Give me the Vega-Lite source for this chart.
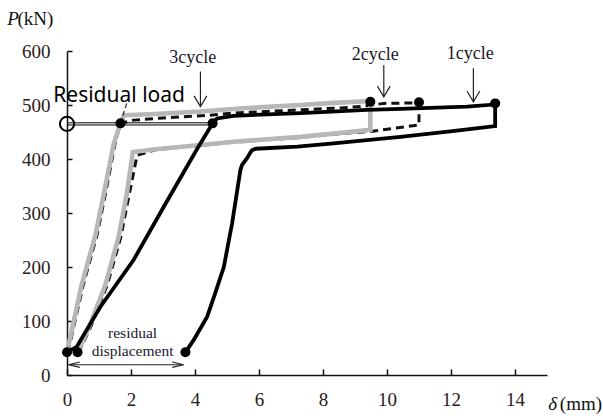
{
  "$schema": "https://vega.github.io/schema/vega-lite/v6.json",
  "width": 480,
  "height": 324,
  "autosize": {"type": "none"},
  "padding": {"left": 67, "top": 51, "right": 56, "bottom": 41},
  "background": "white",
  "config": {
    "view": {"stroke": null},
    "axis": {"grid": false, "domainColor": "#111", "domainWidth": 1.5, "tickColor": "#111", "tickWidth": 1.5, "labelFont": "Liberation Serif", "labelFontSize": 19, "labelColor": "#2a2018", "labelFlush": false}
  },
  "datasets": {
    "c1": [
      {"s": 1, "x": 0, "P": 42}, {"s": 2, "x": 0.3, "P": 52}, {"s": 3, "x": 1.04, "P": 126}, {"s": 4, "x": 2.08, "P": 213},
      {"s": 5, "x": 3.02, "P": 311}, {"s": 6, "x": 4.06, "P": 418}, {"s": 7, "x": 4.55, "P": 466}, {"s": 8, "x": 4.69, "P": 475},
      {"s": 9, "x": 5.2, "P": 480}, {"s": 10, "x": 7.29, "P": 485}, {"s": 11, "x": 9.38, "P": 491}, {"s": 12, "x": 10.42, "P": 493},
      {"s": 13, "x": 12.5, "P": 497}, {"s": 14, "x": 13.38, "P": 501}, {"s": 15, "x": 13.38, "P": 461}, {"s": 16, "x": 11.98, "P": 451},
      {"s": 17, "x": 10.42, "P": 441}, {"s": 18, "x": 8.33, "P": 429}, {"s": 19, "x": 7.2, "P": 423}, {"s": 20, "x": 5.9, "P": 419},
      {"s": 21, "x": 5.78, "P": 416}, {"s": 22, "x": 5.73, "P": 412}, {"s": 23, "x": 5.62, "P": 401}, {"s": 24, "x": 5.47, "P": 389},
      {"s": 25, "x": 5.42, "P": 380}, {"s": 26, "x": 5.16, "P": 281}, {"s": 27, "x": 4.9, "P": 200}, {"s": 28, "x": 4.63, "P": 151},
      {"s": 29, "x": 4.38, "P": 108}, {"s": 30, "x": 3.96, "P": 65}, {"s": 31, "x": 3.7, "P": 42}
    ],
    "c2": [
      {"s": 1, "x": 0.03, "P": 42}, {"s": 2, "x": 0.5, "P": 165}, {"s": 3, "x": 0.95, "P": 262}, {"s": 4, "x": 1.25, "P": 350},
      {"s": 5, "x": 1.5, "P": 428}, {"s": 6, "x": 1.67, "P": 466}, {"s": 7, "x": 2.08, "P": 472}, {"s": 8, "x": 3.0, "P": 476},
      {"s": 9, "x": 4.48, "P": 481}, {"s": 10, "x": 5.2, "P": 485}, {"s": 11, "x": 7.29, "P": 491}, {"s": 12, "x": 8.33, "P": 494},
      {"s": 13, "x": 9.17, "P": 497}, {"s": 14, "x": 9.9, "P": 503}, {"s": 15, "x": 11.0, "P": 504}, {"s": 16, "x": 11.0, "P": 463},
      {"s": 17, "x": 9.48, "P": 451}, {"s": 18, "x": 8.33, "P": 446}, {"s": 19, "x": 7.29, "P": 440}, {"s": 20, "x": 5.21, "P": 431},
      {"s": 21, "x": 4.17, "P": 425}, {"s": 22, "x": 2.76, "P": 417}, {"s": 23, "x": 2.19, "P": 407}, {"s": 24, "x": 1.95, "P": 336},
      {"s": 25, "x": 1.68, "P": 255}, {"s": 26, "x": 1.26, "P": 167}, {"s": 27, "x": 0.72, "P": 86}, {"s": 28, "x": 0.36, "P": 42}
    ],
    "c3": [
      {"s": 1, "x": 0, "P": 42}, {"s": 2, "x": 0.45, "P": 165}, {"s": 3, "x": 0.9, "P": 262}, {"s": 4, "x": 1.2, "P": 350},
      {"s": 5, "x": 1.46, "P": 428}, {"s": 6, "x": 1.67, "P": 466}, {"s": 7, "x": 1.78, "P": 481}, {"s": 8, "x": 2.6, "P": 483},
      {"s": 9, "x": 4.17, "P": 488}, {"s": 10, "x": 5.5, "P": 494}, {"s": 11, "x": 7.29, "P": 500}, {"s": 12, "x": 8.33, "P": 504},
      {"s": 13, "x": 9.38, "P": 507}, {"s": 14, "x": 9.48, "P": 506}, {"s": 15, "x": 9.48, "P": 454}, {"s": 16, "x": 8.33, "P": 447},
      {"s": 17, "x": 7.29, "P": 441}, {"s": 18, "x": 5.21, "P": 432}, {"s": 19, "x": 4.17, "P": 426}, {"s": 20, "x": 2.76, "P": 418},
      {"s": 21, "x": 2.06, "P": 413}, {"s": 22, "x": 1.87, "P": 336}, {"s": 23, "x": 1.61, "P": 255}, {"s": 24, "x": 1.2, "P": 167},
      {"s": 25, "x": 0.67, "P": 86}, {"s": 26, "x": 0.33, "P": 42}
    ],
    "ext": [
      {"s": 1, "x": 1.67, "P": 466}, {"s": 2, "x": 1.93, "P": 515}
    ],
    "resid": [
      {"id": "a", "x": 0, "P": 463}, {"id": "a", "x": 4.55, "P": 463},
      {"id": "b", "x": 0, "P": 467}, {"id": "b", "x": 4.55, "P": 467}
    ],
    "dots": [
      {"x": 1.67, "P": 466}, {"x": 4.55, "P": 466}, {"x": 9.48, "P": 506}, {"x": 11.0, "P": 505},
      {"x": 13.38, "P": 503}, {"x": 0, "P": 42}, {"x": 0.33, "P": 42}, {"x": 3.7, "P": 42}
    ],
    "ring": [{"x": 0, "P": 465}],
    "arrows": [
      {"id": "s3", "s": 1, "x": 4.17, "P": 562}, {"id": "s3", "s": 2, "x": 4.17, "P": 497},
      {"id": "h3", "s": 1, "x": 3.97, "P": 517}, {"id": "h3", "s": 2, "x": 4.17, "P": 497}, {"id": "h3", "s": 3, "x": 4.37, "P": 517},
      {"id": "s2", "s": 1, "x": 9.9, "P": 574}, {"id": "s2", "s": 2, "x": 9.9, "P": 515},
      {"id": "h2", "s": 1, "x": 9.7, "P": 535}, {"id": "h2", "s": 2, "x": 9.9, "P": 515}, {"id": "h2", "s": 3, "x": 10.1, "P": 535},
      {"id": "s1", "s": 1, "x": 12.7, "P": 568}, {"id": "s1", "s": 2, "x": 12.7, "P": 506},
      {"id": "h1", "s": 1, "x": 12.5, "P": 526}, {"id": "h1", "s": 2, "x": 12.7, "P": 506}, {"id": "h1", "s": 3, "x": 12.9, "P": 526},
      {"id": "d", "s": 1, "x": 0.05, "P": 19}, {"id": "d", "s": 2, "x": 3.64, "P": 19},
      {"id": "dl", "s": 1, "x": 0.4, "P": 24}, {"id": "dl", "s": 2, "x": 0.05, "P": 19}, {"id": "dl", "s": 3, "x": 0.4, "P": 14},
      {"id": "dr", "s": 1, "x": 3.29, "P": 24}, {"id": "dr", "s": 2, "x": 3.64, "P": 19}, {"id": "dr", "s": 3, "x": 3.29, "P": 14}
    ],
    "serifLabels": [
      {"t": "3cycle", "x": 3.93, "P": 577},
      {"t": "2cycle", "x": 9.63, "P": 583},
      {"t": "1cycle", "x": 12.6, "P": 586}
    ],
    "smallLabels": [
      {"t": "residual", "x": 2.05, "P": 69},
      {"t": "displacement", "x": 2.05, "P": 35}
    ],
    "sansLabels": [
      {"t": "Residual load", "x": -0.43, "P": 506}
    ],
    "italicLabels": [
      {"t": "P", "x": -1.87, "P": 648},
      {"t": "δ", "x": 15.04, "P": -65}
    ],
    "plainLabels": [
      {"t": "(kN)", "x": -1.55, "P": 648},
      {"t": "(mm)", "x": 15.4, "P": -65}
    ]
  },
  "layer": [
    {
      "data": {"name": "c2"},
      "mark": {"type": "line", "color": "#111", "strokeWidth": 3, "strokeDash": [8, 5]},
      "encoding": {
        "x": {"field": "x", "type": "quantitative", "title": null, "scale": {"domain": [0, 15], "nice": false},
              "axis": {"values": [0, 2, 4, 6, 8, 10, 12, 14], "tickSize": -6, "labelPadding": 21, "title": null}},
        "y": {"field": "P", "type": "quantitative", "title": null, "scale": {"domain": [0, 600], "nice": false},
              "axis": {"values": [0, 100, 200, 300, 400, 500, 600], "tickSize": -5, "labelPadding": 22, "title": null}},
        "order": {"field": "s", "type": "quantitative"}
      }
    },
    {
      "data": {"name": "c3"},
      "mark": {"type": "line", "color": "#b7b7b7", "strokeWidth": 4.6},
      "encoding": {
        "x": {"field": "x", "type": "quantitative", "title": null},
        "y": {"field": "P", "type": "quantitative", "title": null},
        "order": {"field": "s", "type": "quantitative"}
      }
    },
    {
      "data": {"name": "c1"},
      "mark": {"type": "line", "color": "#000", "strokeWidth": 3.8},
      "encoding": {
        "x": {"field": "x", "type": "quantitative", "title": null},
        "y": {"field": "P", "type": "quantitative", "title": null},
        "order": {"field": "s", "type": "quantitative"}
      }
    },
    {
      "data": {"name": "ext"},
      "mark": {"type": "line", "color": "#333", "strokeWidth": 1.3, "strokeDash": [5, 3]},
      "encoding": {
        "x": {"field": "x", "type": "quantitative", "title": null},
        "y": {"field": "P", "type": "quantitative", "title": null},
        "order": {"field": "s", "type": "quantitative"}
      }
    },
    {
      "data": {"name": "resid"},
      "mark": {"type": "line", "color": "#000", "strokeWidth": 1},
      "encoding": {
        "x": {"field": "x", "type": "quantitative", "title": null},
        "y": {"field": "P", "type": "quantitative", "title": null},
        "detail": {"field": "id"}
      }
    },
    {
      "data": {"name": "arrows"},
      "mark": {"type": "line", "color": "#222", "strokeWidth": 1.2},
      "encoding": {
        "x": {"field": "x", "type": "quantitative", "title": null},
        "y": {"field": "P", "type": "quantitative", "title": null},
        "detail": {"field": "id"},
        "order": {"field": "s", "type": "quantitative"}
      }
    },
    {
      "data": {"name": "dots"},
      "mark": {"type": "circle", "color": "#000", "size": 100, "opacity": 1},
      "encoding": {
        "x": {"field": "x", "type": "quantitative", "title": null},
        "y": {"field": "P", "type": "quantitative", "title": null}
      }
    },
    {
      "data": {"name": "ring"},
      "mark": {"type": "point", "shape": "circle", "filled": false, "color": "#000", "strokeWidth": 2, "size": 200, "opacity": 1},
      "encoding": {
        "x": {"field": "x", "type": "quantitative", "title": null},
        "y": {"field": "P", "type": "quantitative", "title": null}
      }
    },
    {
      "data": {"name": "serifLabels"},
      "mark": {"type": "text", "font": "Liberation Serif", "fontSize": 18, "color": "#1a1a2a", "align": "center", "baseline": "alphabetic"},
      "encoding": {
        "x": {"field": "x", "type": "quantitative", "title": null},
        "y": {"field": "P", "type": "quantitative", "title": null},
        "text": {"field": "t"}
      }
    },
    {
      "data": {"name": "smallLabels"},
      "mark": {"type": "text", "font": "Liberation Serif", "fontSize": 15.5, "color": "#1a1a2a", "align": "center", "baseline": "alphabetic"},
      "encoding": {
        "x": {"field": "x", "type": "quantitative", "title": null},
        "y": {"field": "P", "type": "quantitative", "title": null},
        "text": {"field": "t"}
      }
    },
    {
      "data": {"name": "sansLabels"},
      "mark": {"type": "text", "font": "Noto Sans", "fontSize": 21, "color": "#000", "align": "left", "baseline": "alphabetic"},
      "encoding": {
        "x": {"field": "x", "type": "quantitative", "title": null},
        "y": {"field": "P", "type": "quantitative", "title": null},
        "text": {"field": "t"}
      }
    },
    {
      "data": {"name": "italicLabels"},
      "mark": {"type": "text", "font": "Liberation Serif", "fontSize": 19, "fontStyle": "italic", "color": "#111", "align": "left", "baseline": "alphabetic"},
      "encoding": {
        "x": {"field": "x", "type": "quantitative", "title": null},
        "y": {"field": "P", "type": "quantitative", "title": null},
        "text": {"field": "t"}
      }
    },
    {
      "data": {"name": "plainLabels"},
      "mark": {"type": "text", "font": "Liberation Serif", "fontSize": 19, "color": "#111", "align": "left", "baseline": "alphabetic"},
      "encoding": {
        "x": {"field": "x", "type": "quantitative", "title": null},
        "y": {"field": "P", "type": "quantitative", "title": null},
        "text": {"field": "t"}
      }
    }
  ]
}
